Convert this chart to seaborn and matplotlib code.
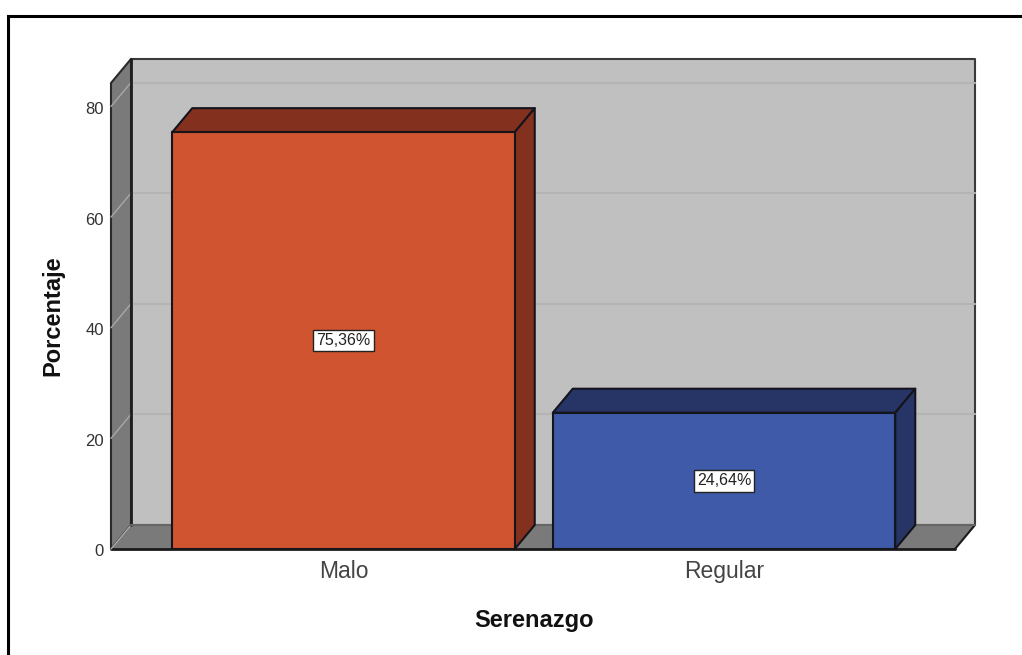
import matplotlib
matplotlib.use("Agg")
import matplotlib.pyplot as plt
from matplotlib.lines import Line2D
from matplotlib.patches import Polygon
from matplotlib.transforms import ScaledTranslation
import pandas as pd
import seaborn as sns

# data
categories = ["Malo", "Regular"]
percent = [75.36, 24.64]
percent_labels = ["75,36%", "24,64%"]
y_ticks = [0, 20, 40, 60, 80]

front_colors = ["#D0542F", "#3E5AA8"]
dark_colors = ["#84301F", "#263566"]
edge = "#14141C"

df = pd.DataFrame({"Serenazgo": categories, "Porcentaje": percent})

sns.set_theme(style="white")
plt.rcParams["font.family"] = ["Liberation Sans", "DejaVu Sans"]

fig = plt.figure(figsize=(10.22, 6.55), dpi=100)
W, H = 1022, 655

# axes = front plane of the fake 3d box
ax = fig.add_axes([111 / W, (H - 549) / H, (955 - 111) / W, (549 - 83) / H])

sns.barplot(data=df, x="Serenazgo", y="Porcentaje", hue="Serenazgo",
            palette=front_colors, width=0.9, saturation=1, legend=False,
            edgecolor=edge, linewidth=1.5, ax=ax, zorder=5)

ax.set_xlim(-0.611, 1.607)
ax.set_ylim(0, 84.25)

# depth of the box, in data units
dx = 20 / 380.5
dy = 24 / 5.53
x0, x1 = ax.get_xlim()
y0, y1 = ax.get_ylim()


def face(points, color, z, ec=edge, lw=1.5):
    ax.add_patch(Polygon(points, closed=True, facecolor=color, edgecolor=ec,
                         linewidth=lw, zorder=z, clip_on=False,
                         joinstyle="round"))


# walls
face([(x0 + dx, y0 + dy), (x1 + dx, y0 + dy), (x1 + dx, y1 + dy), (x0 + dx, y1 + dy)], "#C0C0C0", 1, ec="#3A3A3A")
face([(x0, y0), (x0 + dx, y0 + dy), (x0 + dx, y1 + dy), (x0, y1)], "#7A7A7A", 1, ec="#2A2A2A")
face([(x0, y0), (x1, y0), (x1 + dx, y0 + dy), (x0 + dx, y0 + dy)], "#7A7A7A", 1.5, ec="none", lw=0)
ax.plot([x0, x1], [y0, y0], color="#1A1A1A", lw=2, zorder=2, clip_on=False)
ax.plot([x1, x1 + dx], [y0, y0 + dy], color="#1A1A1A", lw=1.5, zorder=2, clip_on=False)
ax.plot([x0 + dx, x0 + dx], [y0 + dy, y1 + dy], color="#1E1E1E", lw=2, zorder=3, clip_on=False)
ax.plot([x0 + dx, x1 + dx], [y0 + dy, y0 + dy], color="#666666", lw=1.5, zorder=3, clip_on=False)

# gridlines on back wall and side wall
for t in y_ticks:
    if t > 0:
        ax.plot([x0 + dx, x1 + dx], [t + dy, t + dy], color="#B4B4B4", lw=1.5, zorder=2, clip_on=False)
    ax.plot([x0, x0 + dx], [t, t + dy], color="#A8A8A8", lw=1, zorder=2, clip_on=False)

# bar sides and tops, built from the seaborn bars
for i, bar in enumerate(ax.patches[:len(categories)]):
    l, b = bar.get_x(), bar.get_y()
    r, t = l + bar.get_width(), b + bar.get_height()
    face([(l, t), (r, t), (r + dx, t + dy), (l + dx, t + dy)], dark_colors[i], 4)
    face([(r, b), (r + dx, b + dy), (r + dx, t + dy), (r, t)], dark_colors[i], 4)
    ax.text((l + r) / 2, t / 2, percent_labels[i], ha="center", va="center",
            fontsize=11.5, color="#222222", zorder=8,
            bbox=dict(boxstyle="square,pad=0.2", facecolor="white", edgecolor="#222222", linewidth=1))

for s in ax.spines.values():
    s.set_visible(False)
ax.set_yticks(y_ticks)
ax.tick_params(axis="y", length=0, pad=5, labelsize=12, colors="#333333")
ax.tick_params(axis="x", length=0, pad=8, labelsize=16.5, colors="#444444")
ax.set_xlabel("")
ax.set_ylabel("")

# y labels sit a little under their ticks in the original
down = ScaledTranslation(0, -1.5 / 100, fig.dpi_scale_trans)
for lab in ax.get_yticklabels():
    lab.set_transform(lab.get_transform() + down)

fig.text(534 / W, 1 - 620 / H, "Serenazgo", ha="center", va="center", fontsize=17, fontweight="bold", color="#111111")
fig.text(53 / W, 1 - 316 / H, "Porcentaje", ha="center", va="center", rotation=90, fontsize=17, fontweight="bold", color="#111111")

# outer frame, only left and top show
fig.add_artist(Line2D([8 / W, 8 / W, 1], [0, 1 - 15.5 / H, 1 - 15.5 / H], transform=fig.transFigure,
                      color="black", linewidth=2.2, solid_joinstyle="miter"))

fig.savefig("out.png", dpi=100)
plt.close()
